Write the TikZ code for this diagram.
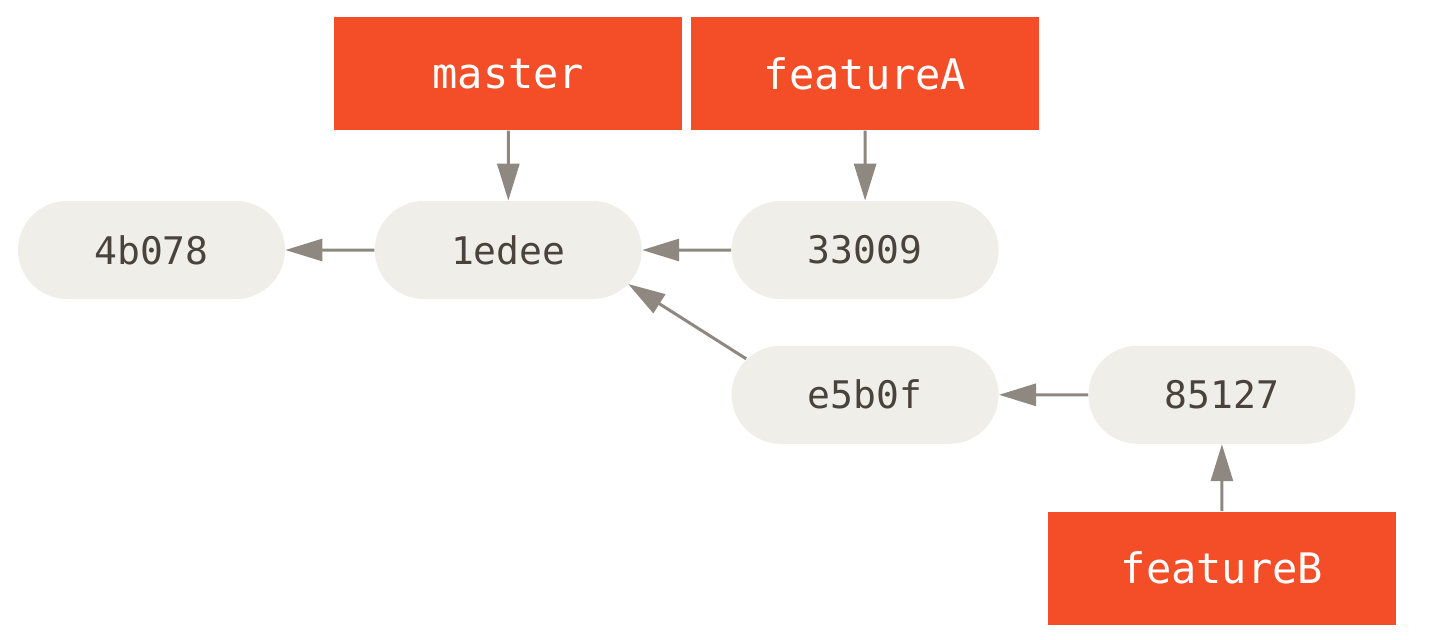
\documentclass[tikz,border=0pt]{standalone}
\usepackage{fontspec}
\setmonofont{DejaVu Sans Mono}
\usetikzlibrary{positioning}
\usetikzlibrary{arrows.meta}
\usetikzlibrary{shapes.misc}

\definecolor{branchred}{HTML}{F44E28}
\definecolor{commitfill}{HTML}{EFEEE8}
\definecolor{edgegray}{HTML}{8F8880}
\definecolor{committext}{HTML}{4A423C}

\tikzset{
  commit/.style={rounded rectangle, fill=commitfill, text=committext,
    minimum width=133.5pt, minimum height=49pt, inner sep=0pt,
    font=\ttfamily\fontsize{19}{19}\selectfont},
  branch/.style={rectangle, fill=branchred, text=white,
    minimum width=174pt, minimum height=56.5pt, inner sep=0pt,
    font=\ttfamily\fontsize{21}{21}\selectfont},
  ptr/.style={-{Triangle[length=18.5pt,width=11pt]}, color=edgegray, line width=1.5pt}
}

\begin{document}
\begin{tikzpicture}
\useasboundingbox (-75.75pt,-194.5pt) rectangle (641.25pt,125pt);
% Define nodes
% Commits
\node[commit] (c4b078) at (0,0) {4b078};
\node[commit, right=44.5pt of c4b078] (c1edee) {1edee};
\node[commit, right=44.5pt of c1edee] (c33009) {33009};
\node[commit, below=23pt of c33009] (ce5b0f) {e5b0f};
\node[commit, right=44.5pt of ce5b0f] (c85127) {85127};

% Branches
\node[branch, above=35pt of c1edee] (master) {master};
\node[branch, above=35pt of c33009] (featureA) {featureA};
\node[branch, below=33.5pt of c85127] (featureB) {featureB};

% Edges
\draw[ptr] (c1edee) -- (c4b078);
\draw[ptr] (c33009) -- (c1edee);
\draw[ptr] ([xshift=7.5pt,yshift=18pt]ce5b0f.west) -- ([xshift=-7pt,yshift=-17pt]c1edee.east);
\draw[ptr] (c85127) -- (ce5b0f);
\draw[ptr] (master) -- (c1edee);
\draw[ptr] (featureA) -- (c33009);
\draw[ptr] (featureB) -- (c85127);
\end{tikzpicture}
\end{document}
